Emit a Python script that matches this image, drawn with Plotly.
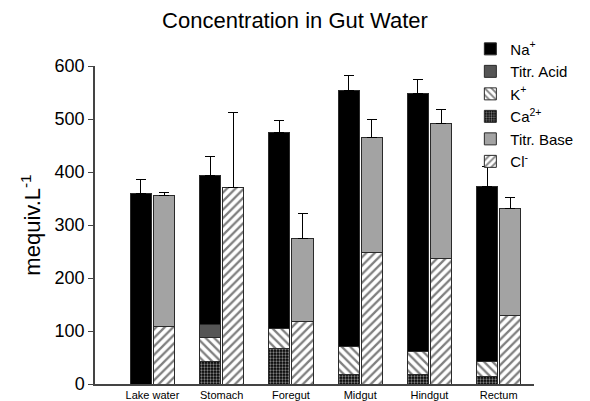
import plotly.graph_objects as go

categories = ["Lake water", "Stomach", "Foregut", "Midgut", "Hindgut", "Rectum"]

# segment heights (mequiv/L)
ca = [0, 43, 67, 18, 18, 14]
k = [0, 45, 38, 52, 44, 29]
titr_acid = [0, 25, 0, 0, 0, 0]
na = [360, 280, 370, 483, 486, 329]
cl = [108, 371, 117, 248, 236, 130]
titr_base = [247, 0, 157, 217, 256, 201]

# upward error bars (SE) on the top of each segment
ca_err = [None, 8, 7, 2, 3, 6]
k_err = [None, 10, None, None, None, None]
titr_acid_err = [None, None, None, None, None, None]
na_err = [25, 37, 22, 30, 27, 38]
cl_err = [2, 141, 10, 24, 26, 13]
titr_base_err = [7, None, 47, 34, 26, 21]

idx = list(range(len(categories)))
off = 0.167
bw = 0.305
x_cat = [i - off for i in idx]
x_an = [i + off for i in idx]

FONT = "Liberation Sans, Arial, Helvetica, sans-serif"
LINE = dict(color="#2a2a2a", width=1)


def err(arr):
    return dict(type="data", symmetric=False,
                array=[e if e is not None else float("nan") for e in arr],
                arrayminus=[0] * len(arr),
                color="black", thickness=1, width=5)


def bar(x, y, e, name, rank, color, pattern=None):
    m = dict(color=color, line=LINE)
    if pattern:
        m["pattern"] = pattern
    return go.Bar(x=x, y=y, name=name, width=bw, marker=m, error_y=err(e),
                  legendrank=rank, hoverinfo="y+name")


fig = go.Figure()
# anion column
fig.add_trace(bar(x_an, cl, cl_err, "Cl<sup>-</sup>", 6, "white",
                  dict(shape="/", fgcolor="black", bgcolor="white", size=6, solidity=0.38)))
fig.add_trace(bar(x_an, titr_base, titr_base_err, "Titr. Base", 5, "#a3a3a3"))
# cation column
fig.add_trace(bar(x_cat, ca, ca_err, "Ca<sup>2+</sup>", 4, "black",
                  dict(shape=".", fgcolor="white", bgcolor="black", size=3, solidity=0.45)))
fig.add_trace(bar(x_cat, k, k_err, "K<sup>+</sup>", 3, "white",
                  dict(shape="\\", fgcolor="black", bgcolor="white", size=6, solidity=0.38)))
fig.add_trace(bar(x_cat, titr_acid, titr_acid_err, "Titr. Acid", 2, "#555555"))
fig.add_trace(bar(x_cat, na, na_err, "Na<sup>+</sup>", 1, "black"))

fig.update_layout(
    width=590, height=401,
    margin=dict(l=95, r=38, t=66, b=17),
    barmode="stack",
    plot_bgcolor="white", paper_bgcolor="white",
    font=dict(family=FONT, color="black"),
    title=dict(text="Concentration in Gut Water", x=0.5, xref="container",
               y=0.95, yref="container", xanchor="center", yanchor="middle",
               font=dict(size=22, family=FONT, color="black")),
    legend=dict(x=0.855, y=1.105, xanchor="left", yanchor="top", traceorder="normal",
                font=dict(size=15, family=FONT), bgcolor="rgba(0,0,0,0)",
                itemwidth=30, tracegroupgap=0),
    showlegend=True,
)
fig.update_xaxes(
    range=[-0.83, 5.51], tickmode="array", tickvals=idx, ticktext=categories,
    showline=True, linecolor="#444444", linewidth=1.5, ticks="", showgrid=False,
    zeroline=False, tickfont=dict(size=11, family=FONT), automargin=False,
)
fig.update_yaxes(
    range=[0, 600], tickvals=[0, 100, 200, 300, 400, 500, 600],
    showline=True, linecolor="#444444", linewidth=1.5, ticks="outside", ticklen=5,
    tickcolor="#444444", showgrid=False, zeroline=False,
    tickfont=dict(size=18, family=FONT), automargin=False,
    title=dict(text="mequiv.L<sup>-1</sup>", font=dict(size=22, family=FONT), standoff=8),
)

fig.write_html("out.html")
